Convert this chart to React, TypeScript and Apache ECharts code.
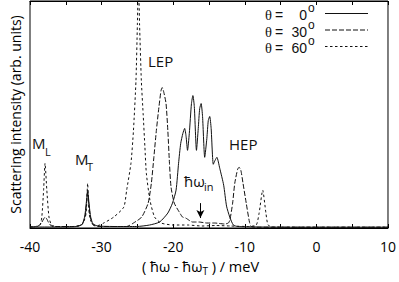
import React, { useEffect, useRef } from "react";
import * as echarts from "echarts";

// ---- data ----
const xMin = -40;
const xMax = 10;
const xTickStep = 5;
const yMax = 228;

const theta0: [number, number][] = [
  [-40, 1], [-36, 1], [-33.5, 1.5], [-32.7, 4], [-32.35, 12], [-32.1, 28], [-31.95, 38],
  [-31.8, 28], [-31.55, 12], [-31.2, 4], [-30.5, 2], [-28, 1.5], [-25.1, 1.5], [-23.3, 3],
  [-21.9, 6], [-20.75, 15], [-20.1, 25], [-19.6, 38], [-19.25, 65], [-18.95, 85], [-18.65, 95],
  [-18.4, 100], [-18.2, 92], [-18.0, 78], [-17.75, 95], [-17.45, 125], [-17.25, 133], [-17.05, 122],
  [-16.75, 78], [-16.5, 100], [-16.3, 120], [-16.1, 125], [-15.9, 112], [-15.6, 71], [-15.3, 90],
  [-15.1, 108], [-14.9, 112], [-14.7, 100], [-14.4, 64], [-14.15, 68], [-13.9, 71], [-13.5, 60],
  [-12.95, 43], [-12.55, 22], [-12.1, 11], [-11.6, 3], [-11, 1.5], [-8, 1], [-4, 0.8], [0, 0.8], [10, 0.8],
];

const theta30: [number, number][] = [
  [-40, 1], [-39, 1.5], [-38.5, 4], [-38.1, 9], [-37.9, 11], [-37.65, 9], [-37.3, 4], [-36.8, 1.5],
  [-34, 1.5], [-32.8, 3], [-32.35, 10], [-32.1, 25], [-31.95, 36], [-31.8, 25], [-31.55, 10],
  [-31.2, 3], [-30.5, 1.5], [-28, 1.5], [-26.5, 1.5], [-25.55, 5], [-24.4, 11], [-23.5, 25],
  [-23.05, 45], [-22.7, 71], [-22.35, 98], [-22.0, 121], [-21.7, 138], [-21.53, 141], [-21.3, 136],
  [-21.0, 125], [-20.75, 98], [-20.52, 65], [-20.3, 41], [-19.85, 25], [-19.15, 16], [-18.7, 11],
  [-18.25, 10], [-17.3, 6], [-16.4, 6], [-15.3, 5], [-14.2, 5], [-12.8, 4], [-12.3, 5], [-12.08, 8],
  [-11.7, 25], [-11.4, 45], [-11.0, 59], [-10.8, 61], [-10.55, 58], [-10.25, 45], [-9.8, 25],
  [-9.35, 6], [-9.1, 1.5], [-8, 0.8], [0, 0.8], [10, 0.8],
];

const theta60: [number, number][] = [
  [-40, 1], [-39.2, 1.5], [-38.6, 3], [-38.35, 11], [-38.1, 38], [-37.9, 65], [-37.65, 38],
  [-37.35, 11], [-37.0, 3], [-36.3, 1.5], [-34, 1.5], [-32.8, 3], [-32.4, 8], [-32.16, 15],
  [-32.05, 30], [-31.95, 45], [-31.85, 30], [-31.75, 15], [-31.5, 7], [-31.0, 3], [-30.5, 2.5],
  [-29.7, 5], [-28.3, 11], [-26.9, 21], [-26.5, 38], [-25.9, 65], [-25.55, 98], [-25.2, 148],
  [-25.0, 205], [-24.85, 250], [-24.7, 205], [-24.45, 148], [-24.2, 115], [-23.95, 81],
  [-23.75, 55], [-23.25, 28], [-22.6, 11], [-21.7, 5], [-20, 3], [-18, 3], [-16, 2], [-14, 2.5],
  [-12, 2], [-9.5, 1.5], [-8.4, 3], [-8.0, 15], [-7.5, 38], [-7.05, 15], [-6.75, 3], [-6, 1],
  [0, 0.8], [10, 0.8],
];

const seriesNames = ["θ = 0°", "θ = 30°", "θ = 60°"];
const legendAngles = ["0", "30", "60"];
const arrowX = -16.2;
const arrowFrom = 25;
const arrowTo = 10;

const FONT = "'Open Sans', 'Noto Sans', 'DejaVu Sans', sans-serif";
const LFONT = "'Liberation Sans', Arial, sans-serif";
const SERIF = "'Liberation Serif', 'DejaVu Serif', serif";
const INK = "#111";
const dashes: (string | number[])[] = ["solid", [5, 2], [2.5, 2.5]];

export default function App() {
  const ref = useRef<HTMLDivElement>(null);
  useEffect(() => {
    const chart = echarts.init(ref.current!, null, { renderer: "svg" });
    const datasets = [theta0, theta30, theta60];

    const txt = (text: string, x: number, y: number, size: number, align = "left", family = FONT) => ({
      type: "text",
      x,
      y,
      style: {
        text,
        fill: INK,
        fontFamily: family,
        fontSize: size,
        lineHeight: size,
        align,
        verticalAlign: "middle",
      },
    });

    const legendGraphics: any[] = [];
    const rowY = [15, 31.5, 48];
    legendAngles.forEach((a, i) => {
      legendGraphics.push(txt("θ", 265, rowY[i], 14.5, "left", SERIF));
      legendGraphics.push(txt("=", 275, rowY[i], 14, "left", LFONT));
      legendGraphics.push(txt(a, 307, rowY[i], 14, "right", LFONT));
      legendGraphics.push(txt("o", 308, rowY[i] - 7, 12, "left", LFONT));
      legendGraphics.push({
        type: "line",
        shape: { x1: 325, y1: rowY[i] - 1.5, x2: 368, y2: rowY[i] - 1.5 },
        style: { stroke: INK, lineWidth: 1, lineDash: dashes[i] === "solid" ? null : dashes[i] },
      });
    });

    chart.setOption({
      animation: false,
      backgroundColor: "#fff",
      grid: { left: 24, right: 10, top: 1, bottom: 54, show: true, borderColor: "#000", borderWidth: 1 },
      xAxis: [
        {
          type: "value",
          min: xMin,
          max: xMax,
          interval: xTickStep,
          position: "bottom",
          splitLine: { show: false },
          axisLine: { show: true, lineStyle: { color: "#000", width: 1 } },
          axisTick: { show: true, inside: true, length: 4, lineStyle: { color: "#000" } },
          axisLabel: {
            color: "#000",
            fontFamily: FONT,
            fontSize: 14,
            margin: 11,
            formatter: (v: number) => (v % 10 === 0 ? String(v) : ""),
          },
          name: "{b|( ħω - ħω}{s|T}{b| ) / meV}",
          nameLocation: "middle",
          nameGap: 31,
          nameTextStyle: {
            color: "#000",
            fontFamily: FONT,
            fontSize: 14,
            padding: [0, 17, 0, 0],
            rich: {
              b: { fontFamily: FONT, fontSize: 14.5, color: "#000", verticalAlign: "top" },
              s: { fontFamily: FONT, fontSize: 10, color: "#000", verticalAlign: "top", padding: [7, 0, 0, 0] },
            },
          },
        },
        {
          type: "value",
          min: xMin,
          max: xMax,
          interval: xTickStep,
          position: "top",
          splitLine: { show: false },
          axisLine: { show: true, lineStyle: { color: "#000", width: 1 } },
          axisTick: { show: true, inside: true, length: 4, lineStyle: { color: "#000" } },
          axisLabel: { show: false },
        },
      ],
      yAxis: {
        type: "value",
        min: 0,
        max: yMax,
        splitLine: { show: false },
        axisLine: { show: false },
        axisTick: { show: false },
        axisLabel: { show: false },
        name: "Scattering intensity (arb. units)",
        nameLocation: "middle",
        nameGap: 8,
        nameTextStyle: { color: "#000", fontFamily: FONT, fontSize: 14 },
      },
      series: datasets.map((d, i) => ({
        name: seriesNames[i],
        type: "line",
        data: d,
        xAxisIndex: 0,
        showSymbol: false,
        symbol: "none",
        smooth: 0.2,
        clip: true,
        lineStyle: { color: INK, width: 1, type: dashes[i] },
        markLine:
          i === 0
            ? {
                silent: true,
                symbol: ["none", "arrow"],
                symbolSize: [6, 8],
                label: { show: false },
                lineStyle: { color: "#000", width: 1, type: "solid" },
                data: [[{ coord: [arrowX, arrowFrom] }, { coord: [arrowX, arrowTo] }]],
              }
            : undefined,
      })),
      graphic: [
        ...legendGraphics,
        txt("M", 32, 143, 15),
        txt("L", 45, 151, 11),
        txt("M", 75, 159, 15),
        txt("T", 87, 166, 11),
        txt("LEP", 148, 61, 15),
        txt("HEP", 229, 144, 15),
        txt("ħω", 184, 181, 15),
        txt("in", 204, 186, 11),
      ],
    });
    return () => chart.dispose();
  }, []);
  return (
    <div
      ref={ref}
      style={{ position: "fixed", left: 0, top: 0, width: 399, height: 282, background: "#fff" }}
    />
  );
}
